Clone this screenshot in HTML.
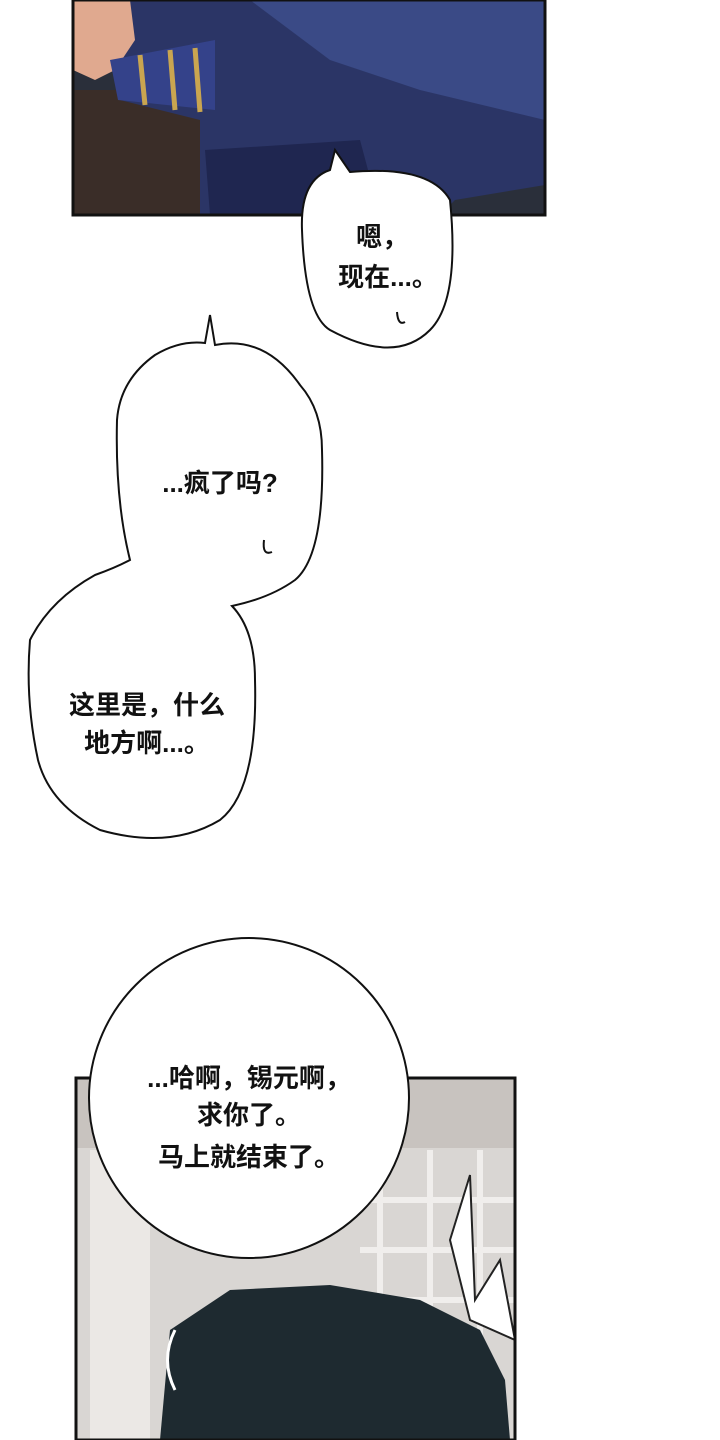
<!DOCTYPE html>
<html><head><meta charset="utf-8"><style>
html,body{margin:0;padding:0;background:#fff;}
svg{display:block}
text{font-family:"Liberation Sans","Noto Sans CJK SC",sans-serif;font-weight:700;font-size:26px;fill:#111;text-anchor:middle}
</style></head><body>
<svg width="720" height="1440" viewBox="0 0 720 1440" xmlns="http://www.w3.org/2000/svg">
<rect width="720" height="1440" fill="#fff"/>
<!-- top panel -->
<g>
<rect x="73" y="0" width="472" height="215" fill="#2a2f3a"/>
<rect x="73" y="90" width="140" height="125" fill="#3a2d28"/>
<path d="M130 0 L545 0 L545 185 L455 200 L440 215 L200 215 L200 120 L120 100 L110 60 L130 40Z" fill="#2b3566"/>
<path d="M250 0 L545 0 L545 120 L420 90 L330 60Z" fill="#3a4a86"/>
<path d="M73 0 L130 0 L135 40 L115 70 L95 80 L73 70Z" fill="#e0a98f"/>
<path d="M110 60 L215 40 L215 110 L118 100Z" fill="#34428a"/>
<path d="M140 55 L145 105 M170 50 L175 110 M195 48 L200 112" stroke="#c9a550" stroke-width="5" fill="none"/>
<path d="M205 150 L360 140 L380 215 L210 215Z" fill="#1f2650"/>
<rect x="73" y="0" width="472" height="215" fill="none" stroke="#111" stroke-width="3"/>
</g>
<!-- bottom panel -->
<g>
<rect x="76" y="1078" width="439" height="362" fill="#d9d6d3"/>
<rect x="76" y="1078" width="439" height="70" fill="#c8c3bf"/>
<g stroke="#f0eeec" stroke-width="6">
<path d="M380 1150 V1340 M430 1150 V1340 M480 1150 V1340 M360 1200 H515 M360 1250 H515 M360 1300 H515"/>
</g>
<rect x="90" y="1150" width="60" height="290" fill="#ebe8e5"/>
<path d="M160 1440 L170 1330 L230 1290 L330 1285 L420 1300 L480 1330 L505 1380 L510 1440Z" fill="#1e2a30"/>
<path d="M450 1240 L470 1175 L475 1300 L500 1260 L515 1340 L470 1320Z" fill="#fff" stroke="#222" stroke-width="2"/>
<rect x="76" y="1078" width="439" height="362" fill="none" stroke="#111" stroke-width="3"/>
</g>
<!-- bubble 1 -->
<path d="M335 150 L350 172 Q430 165 450 200 Q460 300 430 330 Q395 365 330 330 Q305 315 302 230 Q300 180 330 170 Z" fill="#fff" stroke="#111" stroke-width="2"/>
<text x="382" y="246">嗯，</text>
<text x="388" y="286">现在...。</text>
<path d="M397 312 Q398 326 405 322" stroke="#111" stroke-width="2" fill="none"/>
<!-- bubble 2 & 3 -->
<path d="M210 315 L215 345 Q265 335 300 385 Q322 410 322 450 Q325 555 295 580 Q270 598 232 606 Q255 630 255 680 Q258 790 220 820 Q170 850 100 830 Q50 805 38 760 Q25 700 30 640 Q50 600 95 575 Q115 568 130 560 Q115 500 117 420 Q120 380 155 355 Q180 340 205 343 Z" fill="#fff" stroke="#111" stroke-width="2"/>
<text x="220" y="492">...疯了吗?</text>
<path d="M264 540 Q262 556 272 552" stroke="#111" stroke-width="2" fill="none"/>
<text x="147" y="714">这里是，什么</text>
<text x="147" y="752">地方啊...。</text>
<!-- circle -->
<circle cx="249" cy="1098" r="160" fill="#fff" stroke="#111" stroke-width="2"/>
<text x="249" y="1087">...哈啊，锡元啊，</text>
<text x="249" y="1124">求你了。</text>
<text x="249" y="1166">马上就结束了。</text>
<path d="M175 1330 Q160 1360 175 1390" stroke="#fff" stroke-width="3" fill="none"/>
</svg>
</body></html>
